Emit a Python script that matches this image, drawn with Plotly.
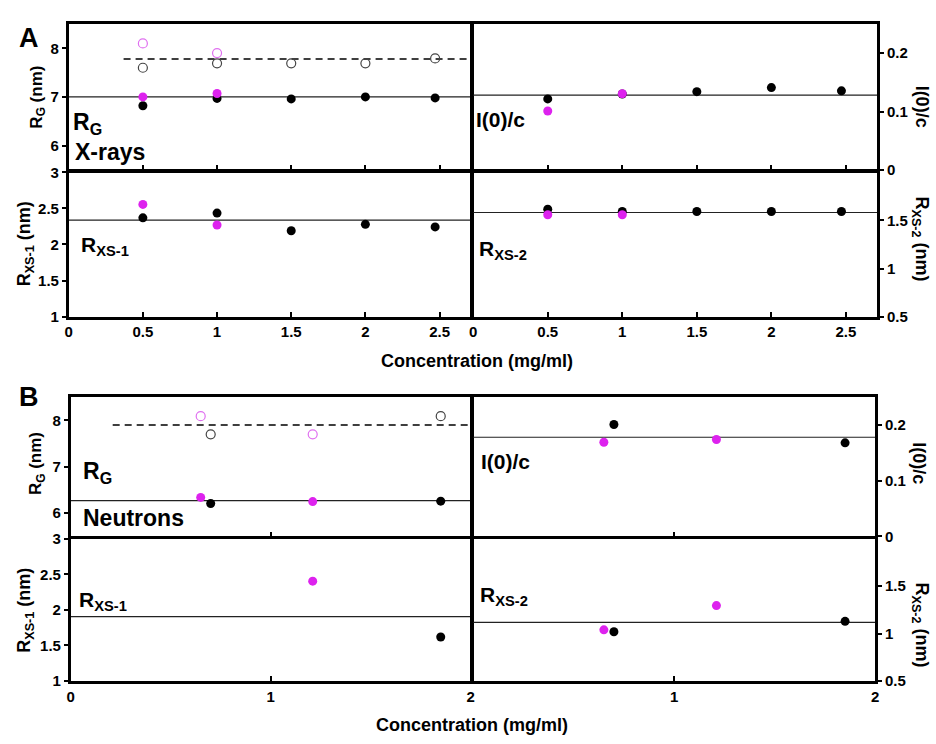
import plotly.graph_objects as go

W, H = 936, 744

# ---------------- Panel A (X-rays) ----------------
A_conc = [0.5, 1.0, 1.5, 2.0, 2.47]
A_mag_conc = [0.5, 1.0]
A_rg_black = [6.82, 6.97, 6.96, 7.00, 6.98]
A_rg_open_black = [7.60, 7.69, 7.69, 7.69, 7.79]
A_rg_mag = [7.00, 7.07]
A_rg_open_mag = [8.10, 7.90]
A_rg_line = 7.0
A_rg_dash = 7.78
A_dash_start = 0.37
A_i0_black = [0.1216, 0.130, 0.134, 0.141, 0.1355]
A_i0_mag = [0.101, 0.1305]
A_i0_line = 0.128
A_rxs1_black = [2.37, 2.436, 2.19, 2.28, 2.244]
A_rxs1_mag = [2.556, 2.27]
A_rxs1_line = 2.337
A_rxs2_black = [1.617, 1.593, 1.593, 1.593, 1.593]
A_rxs2_mag = [1.56, 1.56]
A_rxs2_line = 1.583

# ---------------- Panel B (Neutrons) ----------------
B_conc = [0.70, 1.85]
B_mag_conc = [0.65, 1.21]
B_rg_black = [6.21, 6.26]
B_rg_open_black = [7.70, 8.09]
B_rg_mag = [6.34, 6.25]
B_rg_open_mag = [8.09, 7.70]
B_rg_line = 6.27
B_rg_dash = 7.9
B_dash_start = 0.21
B_i0_black = [0.201, 0.168]
B_i0_mag = [0.169, 0.174]
B_i0_line = 0.178
B_rxs1_black = [None, 1.62]
B_rxs1_mag = [None, 2.405]
B_rxs1_line = 1.905
B_rxs2_black = [1.02, 1.13]
B_rxs2_mag = [1.04, 1.296]
B_rxs2_line = 1.119

A_xmax = 2.71
B_xmax = 2.0

MAG = "#dd22ee"
OPEN_MAG = "#e070f0"
OPEN_BLK = "#444444"
BLK = "#000000"
FONT = "Liberation Sans, Arial, sans-serif"
LW = 2.5

fig = go.Figure()


def px_x(p):
    return p / W


def px_y(p):
    return 1 - p / H


def add_pts(n, x, y, color, open_=False):
    if open_:
        marker = dict(size=9, symbol="circle", color="rgba(255,255,255,0)",
                      line=dict(color=color, width=1.2))
    else:
        marker = dict(size=9, symbol="circle", color=color, line=dict(width=0))
    fig.add_trace(go.Scatter(
        x=x, y=y, xaxis=f"x{n}", yaxis=f"y{n}", mode="markers",
        marker=marker, showlegend=False, hoverinfo="skip", cliponaxis=False))


def add_hline(n, y, x0, x1, dash="solid"):
    fig.add_trace(go.Scatter(
        x=[x0, x1], y=[y, y], xaxis=f"x{n}", yaxis=f"y{n}", mode="lines",
        line=dict(color="#222222" if dash == "solid" else "#000000",
                  width=1.2 if dash == "solid" else 1.5, dash=dash),
        showlegend=False, hoverinfo="skip"))


DASH = "7px,5px"

# Panel A
add_hline(1, A_rg_line, 0, A_xmax)
add_hline(1, A_rg_dash, A_dash_start, A_xmax, dash=DASH)
add_pts(1, A_conc, A_rg_open_black, OPEN_BLK, open_=True)
add_pts(1, A_mag_conc, A_rg_open_mag, OPEN_MAG, open_=True)
add_pts(1, A_conc, A_rg_black, BLK)
add_pts(1, A_mag_conc, A_rg_mag, MAG)

add_hline(2, A_i0_line, 0, A_xmax)
add_pts(2, A_conc, A_i0_black, BLK)
add_pts(2, A_mag_conc, A_i0_mag, MAG)

add_hline(3, A_rxs1_line, 0, A_xmax)
add_pts(3, A_conc, A_rxs1_black, BLK)
add_pts(3, A_mag_conc, A_rxs1_mag, MAG)

add_hline(4, A_rxs2_line, 0, A_xmax)
add_pts(4, A_conc, A_rxs2_black, BLK)
add_pts(4, A_mag_conc, A_rxs2_mag, MAG)

# Panel B
add_hline(5, B_rg_line, 0, B_xmax)
add_hline(5, B_rg_dash, B_dash_start, B_xmax, dash=DASH)
add_pts(5, B_conc, B_rg_open_black, OPEN_BLK, open_=True)
add_pts(5, B_mag_conc, B_rg_open_mag, OPEN_MAG, open_=True)
add_pts(5, B_conc, B_rg_black, BLK)
add_pts(5, B_mag_conc, B_rg_mag, MAG)

add_hline(6, B_i0_line, 0, B_xmax)
add_pts(6, B_conc, B_i0_black, BLK)
add_pts(6, B_mag_conc, B_i0_mag, MAG)

add_hline(7, B_rxs1_line, 0, B_xmax)
add_pts(7, B_conc, B_rxs1_black, BLK)
add_pts(7, B_mag_conc, B_rxs1_mag, MAG)

add_hline(8, B_rxs2_line, 0, B_xmax)
add_pts(8, B_conc, B_rxs2_black, BLK)
add_pts(8, B_mag_conc, B_rxs2_mag, MAG)

tickfont = dict(family=FONT, size=15, color="black", weight="bold")

h = LW / 2
# domains in px (axis lines are drawn just outside the domain)
dom_x = {
    1: (64 + h, 472 - h), 2: (472 + h, 882 - h),
    3: (64 + h, 472 - h), 4: (472 + h, 882 - h),
    5: (66 + h, 472 - h), 6: (472 + h, 880 - h),
    7: (66 + h, 472 - h), 8: (472 + h, 880 - h),
}
dom_y = {
    1: (14 + h, 166 - h), 2: (14 + h, 166 - h),
    3: (166 + h, 316 - h), 4: (166 + h, 316 - h),
    5: (396 + h, 541 - h), 6: (396 + h, 541 - h),
    7: (541 + h, 689 - h), 8: (541 + h, 689 - h),
}
yranges = {1: [5.5, 8.5], 2: [0, 0.25], 3: [1, 3], 4: [0.5, 2.0],
           5: [5.5, 8.5], 6: [0, 0.25], 7: [1, 3], 8: [0.5, 2.0]}
yticks = {1: [6, 7, 8], 2: [0, 0.1, 0.2], 3: [1, 1.5, 2, 2.5, 3], 4: [0.5, 1, 1.5],
          5: [6, 7, 8], 6: [0, 0.1, 0.2], 7: [1, 1.5, 2, 2.5, 3], 8: [0.5, 1, 1.5]}
xticks = {1: [0, 0.5, 1, 1.5, 2, 2.5], 2: [0, 0.5, 1, 1.5, 2, 2.5],
          3: [0, 0.5, 1, 1.5, 2, 2.5], 4: [0, 0.5, 1, 1.5, 2, 2.5],
          5: [0, 1, 2], 6: [0, 1, 2], 7: [0, 1, 2], 8: [1, 2]}

layout = {}
for n in range(1, 9):
    xr = [0, A_xmax] if n <= 4 else [0, B_xmax]
    x0, x1 = dom_x[n]
    y0, y1 = dom_y[n]
    bottom = n in (3, 4, 7, 8)
    right = n in (2, 4, 6, 8)
    layout[f"xaxis{n}"] = dict(
        domain=[px_x(x0), px_x(x1)], range=xr, anchor=f"y{n}",
        showgrid=False, zeroline=False, showline=True, linecolor="black",
        linewidth=LW, mirror=True, ticks="inside", ticklen=5, tickwidth=2,
        tickcolor="black", tickvals=xticks[n],
        ticktext=[("%g" % v) for v in xticks[n]],
        showticklabels=bottom, tickfont=tickfont, fixedrange=True)
    layout[f"yaxis{n}"] = dict(
        domain=[px_y(y1), px_y(y0)], range=yranges[n], anchor=f"x{n}",
        side="right" if right else "left",
        showgrid=False, zeroline=False, showline=True, linecolor="black",
        linewidth=LW, mirror=True, ticks="outside", ticklen=4, tickwidth=2,
        tickcolor="black", tickvals=yticks[n],
        ticktext=[("%g" % v) for v in yticks[n]],
        tickfont=tickfont, fixedrange=True)

anns = []


def ann(text, x, y, size, xanchor="left", yanchor="middle", angle=0):
    anns.append(dict(text=text, x=px_x(x), y=px_y(y), xref="paper", yref="paper",
                     xanchor=xanchor, yanchor=yanchor, showarrow=False,
                     textangle=angle,
                     font=dict(family=FONT, size=size, color="black")))


# panel letters
ann("<b>A</b>", 25, 30, 27, xanchor="center")
ann("<b>B</b>", 25, 397, 27, xanchor="center")

# inner labels A
ann("<b>R<sub>G</sub></b>", 68, 117, 23)
ann("<b>X-rays</b>", 70, 146, 23)
ann("<b>I(0)/c</b>", 474, 113, 21)
ann("<b>R<sub>XS-1</sub></b>", 76, 243, 21)
ann("<b>R<sub>XS-2</sub></b>", 477, 247, 21)
# inner labels B
ann("<b>R<sub>G</sub></b>", 78, 474, 23)
ann("<b>Neutrons</b>", 78, 521, 23)
ann("<b>I(0)/c</b>", 479, 463, 21)
ann("<b>R<sub>XS-1</sub></b>", 74, 606, 21)
ann("<b>R<sub>XS-2</sub></b>", 478, 601, 21)

# axis titles
ann("<b>R<sub>G</sub> (nm)</b>", 34, 90, 17, xanchor="center", angle=-90)
ann("<b>R<sub>XS-1</sub> (nm)</b>", 22, 240, 18, xanchor="center", angle=-90)
ann("<b>I(0)/c</b>", 926, 100, 18, xanchor="center", angle=90)
ann("<b>R<sub>XS-2</sub> (nm)</b>", 924, 235, 18, xanchor="center", angle=90)
ann("<b>R<sub>G</sub> (nm)</b>", 34, 465, 17, xanchor="center", angle=-90)
ann("<b>R<sub>XS-1</sub> (nm)</b>", 22, 615, 18, xanchor="center", angle=-90)
ann("<b>I(0)/c</b>", 923, 465, 18, xanchor="center", angle=90)
ann("<b>R<sub>XS-2</sub> (nm)</b>", 924, 630, 18, xanchor="center", angle=90)

# x titles
ann("<b>Concentration (mg/ml)</b>", 477, 360, 18, xanchor="center")
ann("<b>Concentration (mg/ml)</b>", 472, 733, 18, xanchor="center")

fig.update_layout(
    width=W, height=H, margin=dict(l=0, r=0, t=0, b=0),
    paper_bgcolor="white", plot_bgcolor="white",
    annotations=anns, **layout)

fig.write_html("out.html")
